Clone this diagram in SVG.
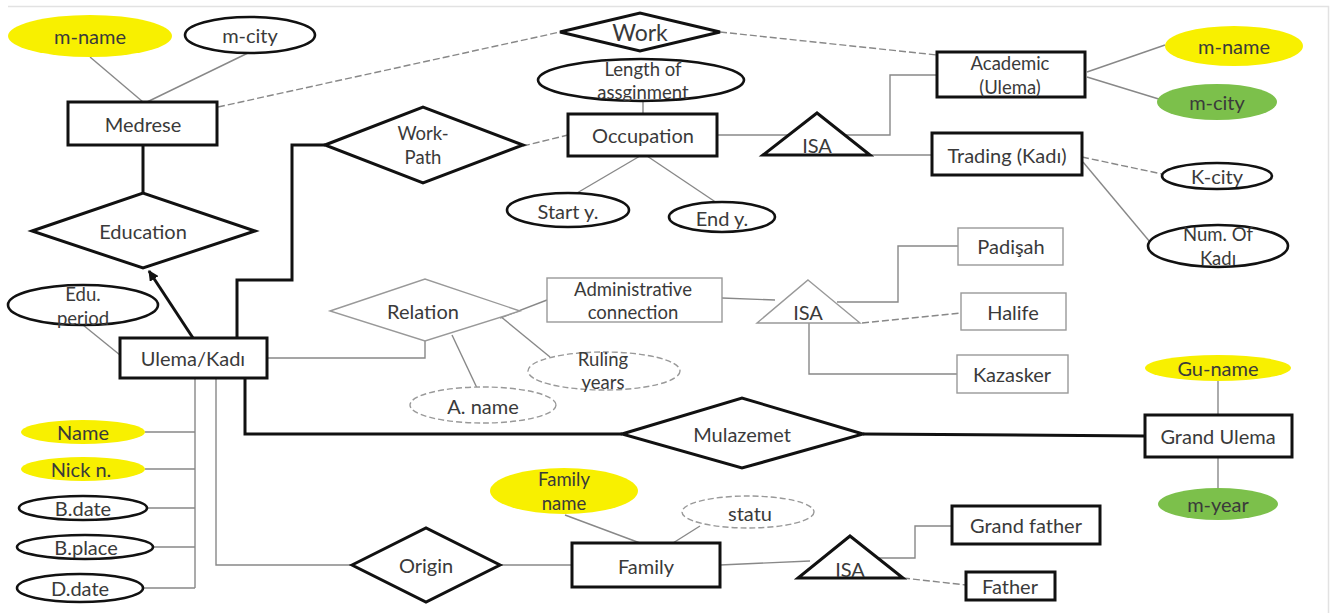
<svg xmlns="http://www.w3.org/2000/svg" width="1335" height="613" viewBox="0 0 1335 613">
<style>
text{font-family:Lato,"Open Sans","Liberation Sans",sans-serif;font-size:20px;fill:#3a3a3a;text-anchor:middle;dominant-baseline:central}
.big{font-size:23px}
.ml{font-size:18.5px}
.thick{fill:#fff;stroke:#111;stroke-width:3}
.ell{fill:#fff;stroke:#111;stroke-width:2.6}
.thin{fill:#fff;stroke:#999;stroke-width:1.4}
.dash{fill:#fff;stroke:#999;stroke-width:1.4;stroke-dasharray:6 3}
.yel{fill:#f8f000;stroke:none}
.grn{fill:#7cc04b;stroke:none}
.c{fill:none;stroke:#888;stroke-width:1.4}
.cd{fill:none;stroke:#888;stroke-width:1.4;stroke-dasharray:7 3}
.ct{fill:none;stroke:#111;stroke-width:3}
.frame{fill:none;stroke:#e2e2e2;stroke-width:1.5}
</style>
<defs>
<marker id="arr" viewBox="0 0 10 10" refX="9" refY="5" markerWidth="3.5" markerHeight="3.5" orient="auto" markerUnits="strokeWidth">
<path d="M0,0 L10,5 L0,10 z" fill="#111"/>
</marker>
</defs>
<rect width="1335" height="613" fill="#fff"/>
<path class="frame" d="M8,6.5 H1328.5 V613"/>
<g id="connectors">
<line class="c" x1="90" y1="57" x2="143" y2="102"/>
<line class="c" x1="248" y1="53" x2="147" y2="102"/>
<line class="cd" x1="218" y1="107" x2="560" y2="32"/>
<line class="cd" x1="720" y1="32" x2="937" y2="55"/>
<line class="ct" x1="143" y1="145" x2="143" y2="193"/>
<line class="ct" x1="193" y1="338" x2="149" y2="271" marker-end="url(#arr)"/>
<path class="ct" d="M237,338 V280 H292 V145 H325"/>
<line class="c" x1="83" y1="325" x2="120" y2="355"/>
<path class="c" d="M267,358 H425 V341"/>
<line class="c" x1="547" y1="300" x2="500" y2="318"/>
<line class="c" x1="500" y1="316" x2="550" y2="357"/>
<line class="c" x1="452" y1="335" x2="477" y2="388"/>
<line class="c" x1="722" y1="298" x2="775" y2="300"/>
<path class="c" d="M837,302 H898 V246 H958"/>
<line class="cd" x1="862" y1="323" x2="961" y2="313"/>
<path class="c" d="M809,323 V374 H957"/>
<line class="cd" x1="523" y1="146" x2="568" y2="135"/>
<line class="c" x1="643" y1="102" x2="643" y2="114"/>
<line class="c" x1="640" y1="156" x2="577" y2="193"/>
<line class="c" x1="647" y1="156" x2="717" y2="203"/>
<line class="c" x1="717" y1="135" x2="789" y2="135"/>
<path class="c" d="M845,135 H890 V75 H937"/>
<line class="c" x1="870" y1="155" x2="932" y2="155"/>
<line class="c" x1="1087" y1="72" x2="1165" y2="45"/>
<line class="c" x1="1087" y1="77" x2="1162" y2="100"/>
<line class="cd" x1="1082" y1="157" x2="1162" y2="174"/>
<line class="c" x1="1083" y1="162" x2="1150" y2="242"/>
<path class="c" d="M195,378 V588 M145,432 H195 M145,469 H195 M147,508 H195 M153,547 H195 M143,588 H195"/>
<path class="c" d="M216,378 V565 H352"/>
<path class="ct" d="M245,378 V434 H622"/>
<line class="ct" x1="863" y1="434" x2="1145" y2="436"/>
<line class="c" x1="1218" y1="381" x2="1218" y2="415"/>
<line class="c" x1="1218" y1="457" x2="1218" y2="488"/>
<line class="c" x1="500" y1="565" x2="572" y2="565"/>
<line class="c" x1="565" y1="515" x2="640" y2="543"/>
<line class="c" x1="700" y1="526" x2="673" y2="543"/>
<line class="c" x1="720" y1="565" x2="810" y2="561"/>
<path class="c" d="M872,558 H915 V526 H952"/>
<line class="cd" x1="903" y1="578" x2="966" y2="585"/>
</g>
<g id="m-name-left"><ellipse class="yel" cx="90" cy="36" rx="82" ry="21"/><text x="90" y="36">m-name</text></g>
<g id="m-city-left"><ellipse class="ell" cx="250" cy="35" rx="65" ry="18"/><text x="250" y="35">m-city</text></g>
<g id="medrese"><rect class="thick" x="68" y="102" width="149" height="43"/><text x="143" y="124">Medrese</text></g>
<g id="education"><polygon class="thick" points="32,231 143,193 255,231 143,268"/><text x="143" y="231">Education</text></g>
<g id="work"><polygon class="thick" points="560,32 640,13 720,32 640,51"/><text class="big" x="640" y="32">Work</text></g>
<g id="work-path"><polygon class="thick" points="325,145 423,107 523,145 423,183"/><text class="ml" x="423" y="133">Work-</text><text class="ml" x="423" y="157">Path</text></g>
<g id="length"><ellipse class="ell" cx="641" cy="80" rx="103" ry="21"/><text class="ml" x="643" y="69">Length of</text><text class="ml" x="643" y="92">assginment</text></g>
<g id="occupation"><rect class="thick" x="568" y="114" width="149" height="42"/><text x="643" y="135">Occupation</text></g>
<g id="start-y"><ellipse class="ell" cx="568" cy="210" rx="61" ry="17"/><text x="568" y="211">Start y.</text></g>
<g id="end-y"><ellipse class="ell" cx="722" cy="217" rx="53" ry="15"/><text x="722" y="218">End y.</text></g>
<g id="isa-occupation"><polygon class="thick" points="817,113 870,155 763,155"/><text x="817" y="145">ISA</text></g>
<g id="academic"><rect class="thick" x="937" y="52" width="148" height="45"/><text class="ml" x="1010" y="63">Academic</text><text class="ml" x="1010" y="87">(Ulema)</text></g>
<g id="trading"><rect class="thick" x="932" y="133" width="150" height="42"/><text x="1007" y="155">Trading (Kadı)</text></g>
<g id="m-name-right"><ellipse class="yel" cx="1234" cy="46" rx="69" ry="20"/><text x="1234" y="46">m-name</text></g>
<g id="m-city-right"><ellipse class="grn" cx="1217" cy="102" rx="60" ry="18"/><text x="1217" y="102">m-city</text></g>
<g id="k-city"><ellipse class="ell" cx="1217" cy="176" rx="55" ry="13"/><text x="1217" y="176">K-city</text></g>
<g id="num-of-kadi"><ellipse class="ell" cx="1218" cy="246" rx="70" ry="21"/><text class="ml" x="1218" y="234">Num. Of</text><text class="ml" x="1218" y="258">Kadı</text></g>
<g id="edu-period"><ellipse class="ell" cx="83" cy="305" rx="75" ry="20"/><text class="ml" x="83" y="294">Edu.</text><text class="ml" x="83" y="318">period</text></g>
<g id="ulema-kadi"><rect class="thick" x="120" y="338" width="147" height="40"/><text x="193" y="358">Ulema/Kadı</text></g>
<g id="name"><ellipse class="yel" cx="83" cy="432" rx="62" ry="12"/><text x="83" y="432">Name</text></g>
<g id="nick-n"><ellipse class="yel" cx="83" cy="469" rx="62" ry="12"/><text x="81" y="469">Nick n.</text></g>
<g id="b-date"><ellipse class="ell" cx="83" cy="508" rx="64" ry="12"/><text x="83" y="508">B.date</text></g>
<g id="b-place"><ellipse class="ell" cx="85" cy="547" rx="68" ry="12"/><text x="86" y="547">B.place</text></g>
<g id="d-date"><ellipse class="ell" cx="80" cy="588" rx="63" ry="14"/><text x="80" y="588">D.date</text></g>
<g id="relation"><polygon class="thin" points="330,311 425,279 520,311 425,341"/><text x="423" y="311">Relation</text></g>
<g id="admin-connection"><rect class="thin" x="547" y="278" width="175" height="44"/><text class="ml" x="633" y="289">Administrative</text><text class="ml" x="633" y="312">connection</text></g>
<g id="ruling-years"><ellipse class="dash" cx="604" cy="371" rx="76" ry="19"/><text class="ml" x="603" y="359">Ruling</text><text class="ml" x="603" y="382">years</text></g>
<g id="a-name"><ellipse class="dash" cx="483" cy="405" rx="73" ry="18"/><text x="483" y="406">A. name</text></g>
<g id="isa-admin"><polygon class="thin" points="808,280 860,323 757,323"/><text x="808" y="312">ISA</text></g>
<g id="padisah"><rect class="thin" x="958" y="228" width="105" height="37"/><text x="1011" y="246">Padişah</text></g>
<g id="halife"><rect class="thin" x="961" y="293" width="105" height="37"/><text x="1013" y="312">Halife</text></g>
<g id="kazasker"><rect class="thin" x="957" y="355" width="111" height="38"/><text x="1012" y="374">Kazasker</text></g>
<g id="mulazemet"><polygon class="thick" points="622,434 742,398 863,434 742,468"/><text x="742" y="434">Mulazemet</text></g>
<g id="grand-ulema"><rect class="thick" x="1145" y="415" width="147" height="42"/><text x="1218" y="436">Grand Ulema</text></g>
<g id="gu-name"><ellipse class="yel" cx="1218" cy="368" rx="73" ry="13"/><text x="1218" y="368">Gu-name</text></g>
<g id="m-year"><ellipse class="grn" cx="1218" cy="504" rx="60" ry="16"/><text x="1218" y="504">m-year</text></g>
<g id="origin"><polygon class="thick" points="352,565 426,528 500,565 426,602"/><text x="426" y="565">Origin</text></g>
<g id="family"><rect class="thick" x="572" y="543" width="148" height="44"/><text x="646" y="566">Family</text></g>
<g id="family-name"><ellipse class="yel" cx="564" cy="491" rx="74" ry="23"/><text class="ml" x="564" y="479">Family</text><text class="ml" x="564" y="503">name</text></g>
<g id="statu"><ellipse class="dash" cx="748" cy="512" rx="66" ry="16"/><text x="750" y="513">statu</text></g>
<g id="isa-family"><polygon class="thick" points="850,536 903,578 798,578"/><text x="850" y="569">ISA</text></g>
<g id="grand-father"><rect class="thick" x="952" y="506" width="148" height="38"/><text x="1026" y="525">Grand father</text></g>
<g id="father"><rect class="thick" x="966" y="572" width="89" height="28"/><text x="1010" y="586">Father</text></g>
</svg>
